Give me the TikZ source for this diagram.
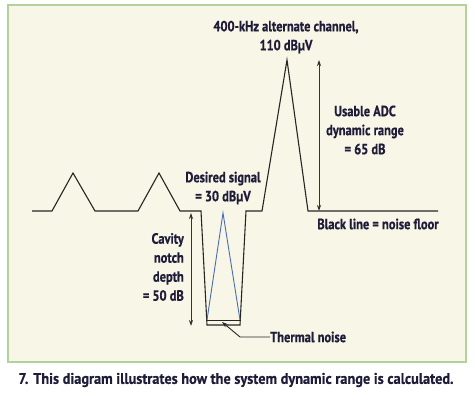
\documentclass[tikz,border=0pt]{standalone}
\usepackage{fontspec}
\setmainfont{PT Sans}[FakeStretch=0.84,FakeBold=0.6]
\newfontfamily\capfont{PT Sans}[FakeStretch=0.93,FakeBold=0.5]
\usetikzlibrary{arrows.meta}
\definecolor{bgcream}{HTML}{F8F6E6}
\definecolor{framegreen}{HTML}{AFD39A}
\definecolor{inktext}{HTML}{1E1C38}
\definecolor{sigblue}{HTML}{4A6CB4}
\begin{document}
\begin{tikzpicture}[x=1pt,y=-1pt,
  lbl/.style={font=\bfseries\fontsize{14.8}{19}\selectfont,text=inktext,inner sep=0pt,align=center},
  trace/.style={line width=1.1pt,draw=black!85,line join=miter},
  dimarrow/.style={line width=0.8pt,draw=black!80,{Stealth[length=6pt,width=4pt]}-{Stealth[length=6pt,width=4pt]}}]
\useasboundingbox (0,0) rectangle (475,395);
\fill[white] (0,0) rectangle (475,395);
\draw[framegreen,line width=2pt,fill=bgcream] (8,5) rectangle (466,362);
% noise floor trace
\draw[trace] (32,211) -- (52,211) -- (73,173) -- (95,211) -- (138,211) -- (159,173) -- (180,211) -- (201,211)
  -- (207,325) -- (240,325) -- (246,211) -- (262,211) -- (287,60) -- (308,211) -- (438,211);
\draw[trace,line width=0.9pt] (207,320) -- (240,320);
% desired signal
\draw[sigblue,line width=0.9pt] (207,320) -- (223,213) -- (240,320);
% dimension arrows
\coordinate (adctop) at (319,60);
\coordinate (adcbot) at (319,211);
\draw[dimarrow] (adctop) -- (adcbot);
\coordinate (cavtop) at (191,213);
\coordinate (cavbot) at (191,326);
\draw[dimarrow] (cavtop) -- (cavbot);
% labels
\node[lbl] (alt) at (286,37) {400-kHz alternate channel,\\110 dBµV};
\node[lbl] (adc) at (365,130) {Usable ADC\\dynamic range\\= 65 dB};
\node[lbl] (des) at (223,188) {Desired signal\\= 30 dBµV};
\node[lbl] (floor) at (378,224) {Black line = noise floor};
\node[lbl,align=right,anchor=east] (cav) at (184,267) {Cavity\\notch\\depth\\= 50 dB};
\node[lbl,anchor=west] (therm) at (270,337) {Thermal noise};
\coordinate (thtip) at (222,322);
\draw[line width=0.9pt,draw=black!85,{Stealth[length=6pt,width=4pt]}-] (thtip) -- (240,337) -- (therm.west);
% caption
\node[font=\capfont\bfseries\fontsize{15.4}{18}\selectfont,text=inktext,inner sep=0pt] (cap) at (236,380) {7. This diagram illustrates how the system dynamic range is calculated.};
\end{tikzpicture}
\end{document}
